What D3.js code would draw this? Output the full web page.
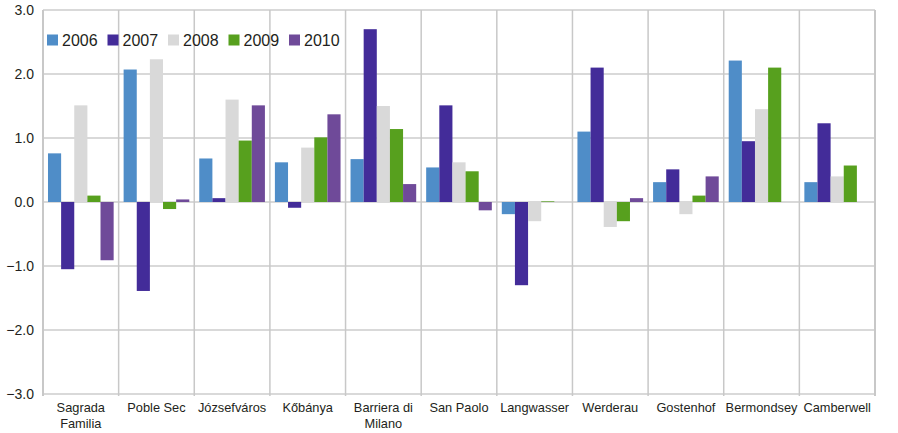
<!DOCTYPE html>
<html lang="en">
<head>
  <meta charset="UTF-8">
  <title>Change by neighbourhood, 2006–2010</title>
  <style>
    body { margin: 0; background: #fff; }
    svg { display: block; font-family: "Liberation Sans", Arial, sans-serif; }
    text { fill: #231f20; }
  </style>
</head>
<body>
  <svg id="chart" width="898" height="433"></svg>

  <script src="https://d3js.org/d3.v7.min.js"></script>
  <script>
    // data
    const categories = ["Sagrada Familia", "Poble Sec", "Józsefváros", "Kőbánya", "Barriera di Milano",
      "San Paolo", "Langwasser", "Werderau", "Gostenhof", "Bermondsey", "Camberwell"];
    const years = ["2006", "2007", "2008", "2009", "2010"];
    const colors = ["#4f8dc8", "#432c99", "#d9d9d9", "#57a01e", "#6f4a99"];

    const v2006 = [0.76, 2.07, 0.68, 0.62, 0.67, 0.54, -0.19, 1.10, 0.31, 2.21, 0.31];
    const v2007 = [-1.05, -1.39, 0.06, -0.09, 2.70, 1.51, -1.30, 2.10, 0.51, 0.95, 1.23];
    const v2008 = [1.51, 2.23, 1.60, 0.85, 1.50, 0.62, -0.30, -0.39, -0.19, 1.45, 0.40];
    const v2009 = [0.10, -0.11, 0.96, 1.01, 1.14, 0.48, 0.01, -0.30, 0.10, 2.10, 0.57];
    const v2010 = [-0.91, 0.04, 1.51, 1.37, 0.28, -0.13, 0, 0.06, 0.40, null, null];
    const series = [v2006, v2007, v2008, v2009, v2010];

    const yTicks = [-3, -2, -1, 0, 1, 2, 3];

    const margin = { top: 10, right: 23, bottom: 39, left: 43 };
    const width = 898 - margin.left - margin.right;
    const height = 433 - margin.top - margin.bottom;

    const svg = d3.select("#chart");
    const g = svg.append("g").attr("transform", `translate(${margin.left},${margin.top})`);

    const x0 = d3.scaleBand().domain(categories).range([0, width]).paddingInner(0).paddingOuter(0);
    const x1 = d3.scaleBand().domain(years).range([0, x0.bandwidth()]).paddingInner(0).paddingOuter(0.38);
    const y = d3.scaleLinear().domain([-3, 3]).range([height, 0]);

    // horizontal gridlines
    g.append("g").selectAll("line").data(yTicks).join("line")
      .attr("x1", 0).attr("x2", width)
      .attr("y1", d => y(d)).attr("y2", d => y(d))
      .attr("stroke", "#d9d9d9").attr("stroke-width", 2);

    // vertical separators between groups
    const seps = categories.map(c => x0(c)).concat([width]);
    g.append("g").selectAll("line").data(seps).join("line")
      .attr("x1", d => d).attr("x2", d => d)
      .attr("y1", 0).attr("y2", height + 2)
      .attr("stroke", "#c8c8c8").attr("stroke-width", d => (d === 0 || d === width) ? 2 : 1.5);

    // y tick labels
    g.append("g").selectAll("text").data(yTicks).join("text")
      .attr("x", -9).attr("y", d => y(d))
      .attr("dy", "0.35em")
      .attr("text-anchor", "end")
      .attr("font-size", 14)
      .text(d => d3.format(".1f")(d).replace("-", "\u2212"));

    // bars
    const groups = g.append("g").selectAll("g").data(categories).join("g")
      .attr("transform", d => `translate(${x0(d)},0)`);

    groups.selectAll("rect")
      .data((c, i) => years.map((yr, k) => ({ yr, k, v: series[k][i] })).filter(d => d.v !== null))
      .join("rect")
      .attr("x", d => x1(d.yr))
      .attr("width", x1.bandwidth())
      .attr("y", d => y(Math.max(0, d.v)))
      .attr("height", d => Math.abs(y(d.v) - y(0)))
      .attr("fill", d => colors[d.k]);

    // category labels
    const labelLines = {
      "Sagrada Familia": ["Sagrada", "Familia"],
      "Barriera di Milano": ["Barriera di", "Milano"]
    };
    const xl = g.append("g").attr("transform", `translate(0,${height})`);
    xl.selectAll("text").data(categories).join("text")
      .attr("x", d => x0(d) + x0.bandwidth() / 2)
      .attr("y", 18)
      .attr("text-anchor", "middle")
      .attr("font-size", 12.8)
      .each(function (d) {
        const lines = labelLines[d] || [d];
        d3.select(this).selectAll("tspan").data(lines).join("tspan")
          .attr("x", x0(d) + x0.bandwidth() / 2)
          .attr("dy", (l, i) => i === 0 ? 0 : 16)
          .text(l => l);
      });

    // legend
    const legend = g.append("g").attr("transform", "translate(4,30)");
    const items = legend.selectAll("g").data(years).join("g")
      .attr("transform", (d, i) => `translate(${i * 60.5},0)`);
    items.append("rect")
      .attr("x", 0).attr("y", -5.5).attr("width", 11).attr("height", 11)
      .attr("fill", (d, i) => colors[i]);
    items.append("text")
      .attr("x", 15).attr("y", 0).attr("dy", "0.35em")
      .attr("font-size", 16)
      .text(d => d);
  </script>
</body>
</html>
